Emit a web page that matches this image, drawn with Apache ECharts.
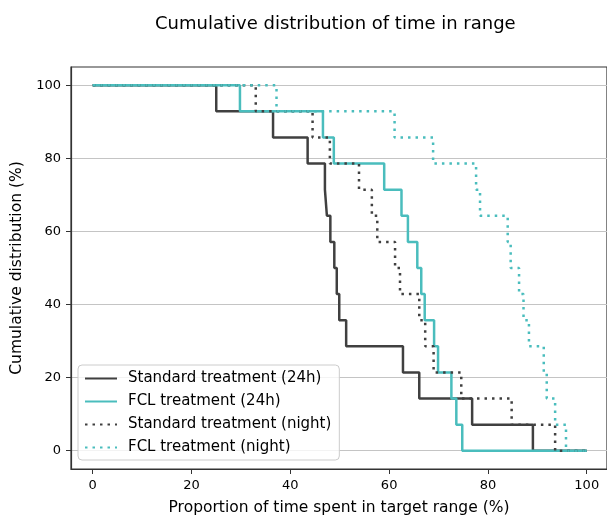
<!DOCTYPE html>
<html><head><meta charset="utf-8">
<script src="https://cdn.jsdelivr.net/npm/echarts@6/dist/echarts.min.js"></script>
<style>html,body{margin:0;padding:0;background:#fff}#c{width:607px;height:516px}</style>
</head><body><div id="c"></div>
<script>
// Cumulative level after each step (14 subjects)
const levels = [100, 92.86, 85.71, 78.57, 71.43, 64.29, 57.14, 50.00, 42.86, 35.71, 28.57, 21.43, 14.29, 7.14, 0, 0];
// Step positions (x, % time in range) for each series
const stdDayX   = [0, 25.0, 36.5, 43.5, 47.0, 47.4, 48.1, 48.9, 49.4, 49.9, 51.3, 62.8, 66.1, 76.8, 89.1, 100];
const fclDayX   = [0, 29.8, 46.6, 48.8, 59.0, 62.5, 63.8, 65.7, 66.5, 67.2, 69.1, 69.9, 72.6, 73.6, 74.8, 100];
const stdNightX = [0, 33.0, 44.5, 48.0, 53.9, 56.5, 57.6, 61.2, 62.2, 66.1, 67.3, 69.0, 74.6, 84.8, 93.6, 100];
const fclNightX = [0, 37.2, 61.1, 68.9, 77.6, 78.4, 84.0, 84.6, 86.3, 87.2, 88.3, 91.3, 91.9, 93.6, 95.8, 100];
const seriesNames = ['Standard treatment (24h)', 'FCL treatment (24h)', 'Standard treatment (night)', 'FCL treatment (night)'];
const xTicks = [0, 20, 40, 60, 80, 100];
const yTicks = [0, 20, 40, 60, 80, 100];

const FONT = 'DejaVu Sans';
const DARK = '#404040';
const TEAL = '#4abdbd';
const DOT = [2.5, 5];

function pts(xs) { return xs.map((x, i) => [x, levels[i]]); }

const defs = [
  {name: seriesNames[0], xs: stdDayX, color: DARK, type: 'solid'},
  {name: seriesNames[1], xs: fclDayX, color: TEAL, type: 'solid'},
  {name: seriesNames[2], xs: stdNightX, color: DARK, type: DOT},
  {name: seriesNames[3], xs: fclNightX, color: TEAL, type: DOT}
];

const chart = echarts.init(document.getElementById('c'), null, {renderer: 'canvas'});
chart.setOption({
  animation: false,
  backgroundColor: '#fff',
  textStyle: {fontFamily: FONT},
  title: {
    text: 'Cumulative distribution of time in range',
    left: 150, top: 10,
    textStyle: {fontFamily: FONT, fontSize: 18, fontWeight: 'normal', color: '#000'}
  },
  grid: {left: 71, right: 0, top: 67, bottom: 47, show: true, containLabel: false, outerBoundsMode: 'none',
    borderColor: '#333', borderWidth: 1.2, backgroundColor: 'transparent'},
  legend: {
    orient: 'vertical', left: 78, top: 365,
    itemWidth: 32, itemHeight: 14, itemGap: 8,
    padding: [6, 8, 5, 6],
    borderColor: '#cccccc', borderWidth: 1, borderRadius: 4,
    backgroundColor: 'rgba(255,255,255,0.8)',
    itemStyle: {color: 'rgba(0,0,0,0)', borderColor: 'rgba(0,0,0,0)', borderWidth: 0},
    textStyle: {fontFamily: FONT, fontSize: 15, color: '#000', padding: [0, 0, 0, 6]},
    data: seriesNames
  },
  xAxis: {
    type: 'value', min: -4.4, max: 104.1,
    name: 'Proportion of time spent in target range (%)',
    nameLocation: 'middle', nameGap: 31,
    nameTextStyle: {fontFamily: FONT, fontSize: 15.5, color: '#000'},
    axisLine: {show: true, onZero: false, lineStyle: {color: '#333', width: 1.2}},
    axisTick: {show: true, length: 5, customValues: xTicks, lineStyle: {color: '#333'}},
    axisLabel: {customValues: xTicks, margin: 10, fontFamily: FONT, fontSize: 13, color: '#000'},
    splitLine: {show: false}
  },
  yAxis: {
    type: 'value', min: -5, max: 105,
    name: 'Cumulative distribution (%)',
    nameLocation: 'middle', nameGap: 41,
    nameTextStyle: {fontFamily: FONT, fontSize: 15.5, color: '#000'},
    axisLine: {show: true, onZero: false, lineStyle: {color: '#333', width: 1.2}},
    axisTick: {show: true, length: 5, customValues: yTicks, lineStyle: {color: '#333'}},
    axisLabel: {customValues: yTicks, margin: 10, fontFamily: FONT, fontSize: 13, color: '#000'},
    splitLine: {show: true, lineStyle: {color: '#c4c4c4', width: 1.2}}
  },
  series: defs.map(d => ({
    name: d.name, type: 'line', step: 'end', symbol: 'none',
    data: pts(d.xs),
    lineStyle: {color: d.color, width: 2.5, type: d.type},
    itemStyle: {color: d.color}
  }))
});
</script></body></html>
